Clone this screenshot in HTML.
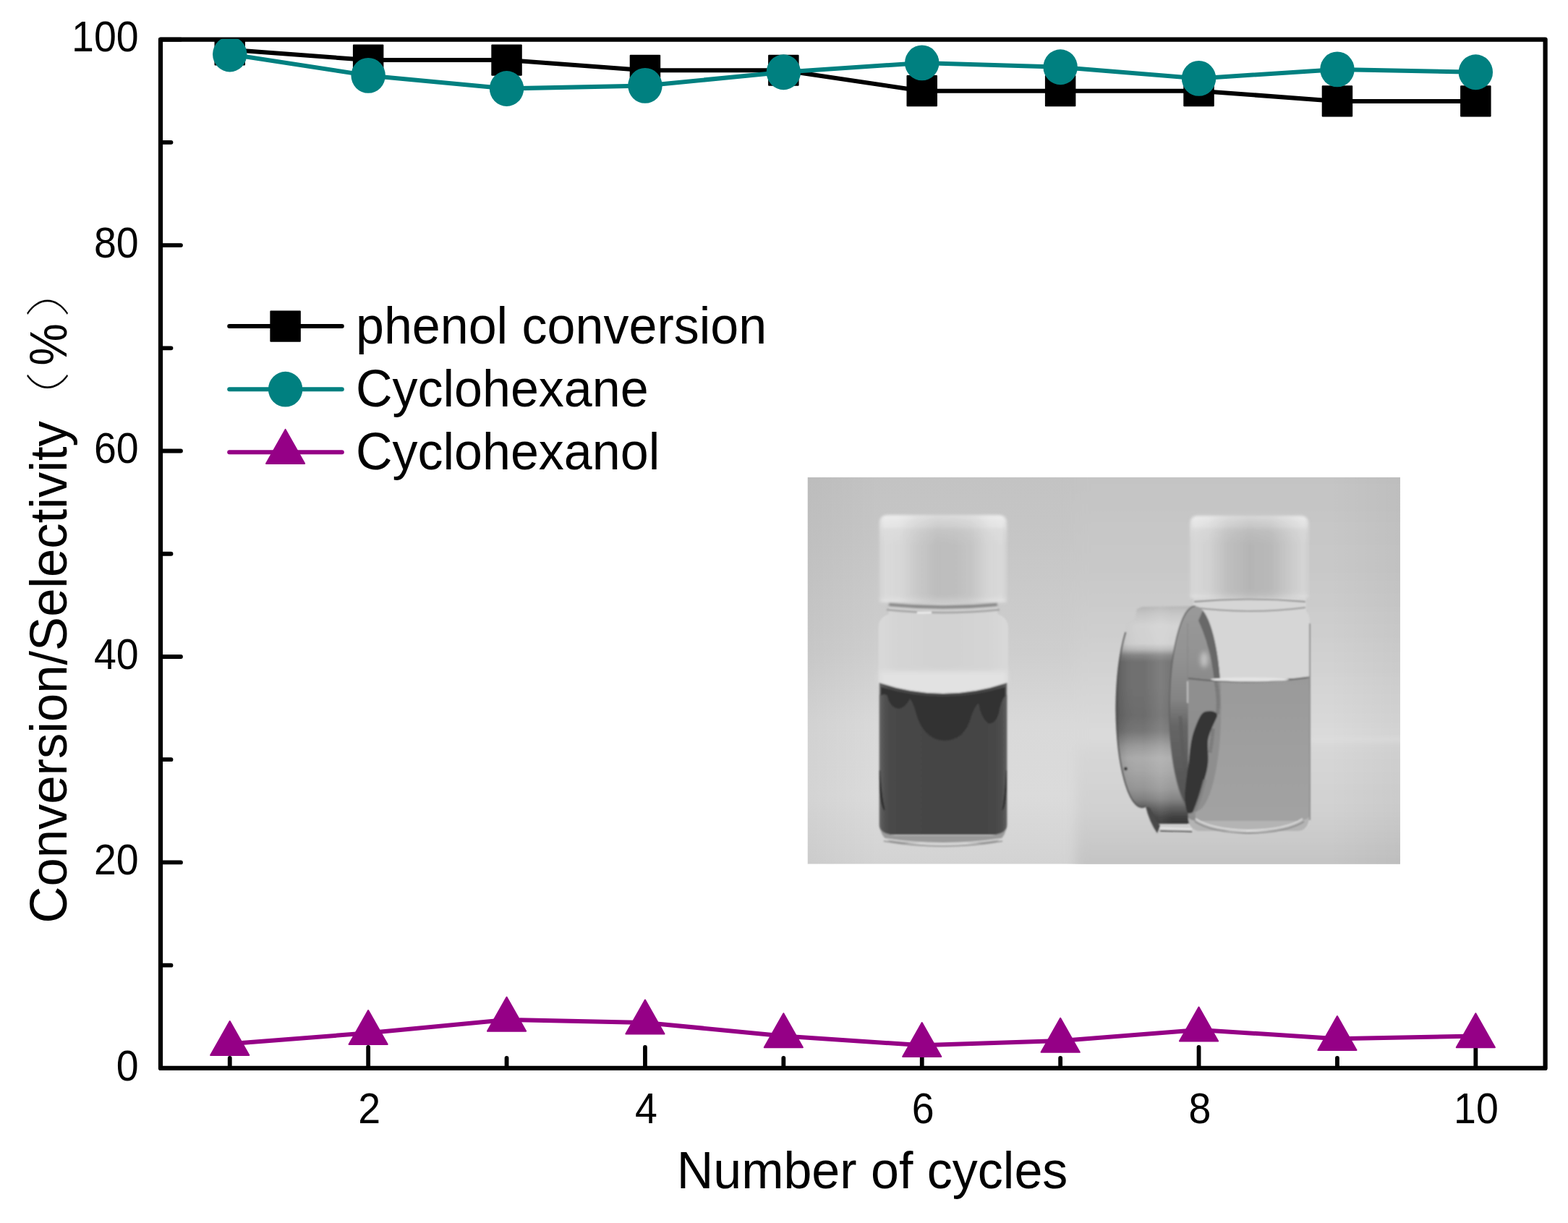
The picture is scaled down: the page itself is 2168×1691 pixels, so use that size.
<!DOCTYPE html>
<html lang="en"><head><meta charset="utf-8"><title>Conversion/Selectivity vs Number of cycles</title>
<style>html,body{margin:0;padding:0;background:#fff;overflow:hidden}svg{display:block}</style></head>
<body>
<svg width="2168" height="1691" viewBox="0 0 2168 1691" font-family="'Liberation Sans', 'Noto Sans CJK SC', sans-serif">
<rect width="2168" height="1691" fill="#fff"/>
<defs>
<clipPath id="pc"><rect x="1116.5" y="660.0" width="819.5" height="534.7"/></clipPath>
<filter id="f1" filterUnits="userSpaceOnUse" x="1090" y="640" width="880" height="580"><feGaussianBlur stdDeviation="1.1"/></filter>
<filter id="f2" filterUnits="userSpaceOnUse" x="1090" y="640" width="880" height="580"><feGaussianBlur stdDeviation="1.6"/></filter>
<filter id="f3" filterUnits="userSpaceOnUse" x="1090" y="640" width="880" height="580"><feGaussianBlur stdDeviation="3"/></filter>
<filter id="f8" filterUnits="userSpaceOnUse" x="1050" y="600" width="960" height="660"><feGaussianBlur stdDeviation="8"/></filter>
<linearGradient id="gcapL" x1="0" y1="0" x2="1" y2="0"><stop offset="0.000" stop-color="#d0d0d0"/><stop offset="0.040" stop-color="#dedede"/><stop offset="0.160" stop-color="#dcdcdc"/><stop offset="0.300" stop-color="#cccccc"/><stop offset="0.450" stop-color="#c0c0c0"/><stop offset="0.600" stop-color="#c2c2c2"/><stop offset="0.720" stop-color="#c8c8c8"/><stop offset="0.860" stop-color="#dadada"/><stop offset="0.960" stop-color="#dedede"/><stop offset="1.000" stop-color="#d0d0d0"/></linearGradient>
<linearGradient id="gcapR" x1="0" y1="0" x2="1" y2="0"><stop offset="0.000" stop-color="#d0d0d0"/><stop offset="0.040" stop-color="#dcdcdc"/><stop offset="0.160" stop-color="#d6d6d6"/><stop offset="0.320" stop-color="#c2c2c2"/><stop offset="0.500" stop-color="#b8b8b8"/><stop offset="0.680" stop-color="#bcbcbc"/><stop offset="0.860" stop-color="#d0d0d0"/><stop offset="0.960" stop-color="#dadada"/><stop offset="1.000" stop-color="#d0d0d0"/></linearGradient>
<linearGradient id="gcapT" x1="0" y1="0" x2="0" y2="1"><stop offset="0.000" stop-color="#fff" stop-opacity="0.45"/><stop offset="0.070" stop-color="#fff" stop-opacity="0.3"/><stop offset="0.200" stop-color="#fff" stop-opacity="0.1"/><stop offset="0.350" stop-color="#fff" stop-opacity="0"/><stop offset="0.900" stop-color="#fff" stop-opacity="0"/><stop offset="1.000" stop-color="#fff" stop-opacity="0.15"/></linearGradient>
<linearGradient id="gliqL" x1="0" y1="0" x2="1" y2="0"><stop offset="0.000" stop-color="#666666"/><stop offset="0.035" stop-color="#525252"/><stop offset="0.100" stop-color="#484848"/><stop offset="0.500" stop-color="#444444"/><stop offset="0.900" stop-color="#464646"/><stop offset="0.965" stop-color="#505050"/><stop offset="1.000" stop-color="#626262"/></linearGradient>
<linearGradient id="gglL" x1="0" y1="0" x2="1" y2="0"><stop offset="0.000" stop-color="#d8d8d8"/><stop offset="0.050" stop-color="#d8d8d8"/><stop offset="0.150" stop-color="#d4d4d4"/><stop offset="0.500" stop-color="#d2d2d2"/><stop offset="0.850" stop-color="#d4d4d4"/><stop offset="0.950" stop-color="#d8d8d8"/><stop offset="1.000" stop-color="#d8d8d8"/></linearGradient>
<linearGradient id="gliqR" x1="0" y1="0" x2="0" y2="1"><stop offset="0.000" stop-color="#909090"/><stop offset="0.500" stop-color="#969696"/><stop offset="1.000" stop-color="#9a9a9a"/></linearGradient>
<linearGradient id="gmagV" gradientUnits="userSpaceOnUse" x1="0" y1="838" x2="0" y2="1139"><stop offset="0.000" stop-color="#b4b4b4"/><stop offset="0.033" stop-color="#c4c4c4"/><stop offset="0.090" stop-color="#d2d2d2"/><stop offset="0.173" stop-color="#d0d0d0"/><stop offset="0.199" stop-color="#b8b8b8"/><stop offset="0.226" stop-color="#848484"/><stop offset="0.256" stop-color="#707070"/><stop offset="0.372" stop-color="#707070"/><stop offset="0.505" stop-color="#6c6c6c"/><stop offset="0.575" stop-color="#767676"/><stop offset="0.648" stop-color="#9c9c9c"/><stop offset="0.698" stop-color="#acacac"/><stop offset="0.754" stop-color="#a6a6a6"/><stop offset="0.837" stop-color="#969696"/><stop offset="0.887" stop-color="#808080"/><stop offset="0.930" stop-color="#585858"/><stop offset="0.970" stop-color="#383838"/><stop offset="1.000" stop-color="#2c2c2c"/></linearGradient>
<linearGradient id="gmagH" gradientUnits="userSpaceOnUse" x1="1543" y1="0" x2="1620" y2="0"><stop offset="0.000" stop-color="#000" stop-opacity="0.3"/><stop offset="0.060" stop-color="#000" stop-opacity="0.12"/><stop offset="0.200" stop-color="#000" stop-opacity="0.03"/><stop offset="0.500" stop-color="#fff" stop-opacity="0.0"/><stop offset="0.800" stop-color="#fff" stop-opacity="0.1"/><stop offset="1.000" stop-color="#fff" stop-opacity="0.04"/></linearGradient>
<linearGradient id="gface" gradientUnits="userSpaceOnUse" x1="0" y1="838" x2="0" y2="1122"><stop offset="0.000" stop-color="#9a9a9a"/><stop offset="0.250" stop-color="#929292"/><stop offset="0.450" stop-color="#848484"/><stop offset="0.580" stop-color="#666666"/><stop offset="0.800" stop-color="#5a5a5a"/><stop offset="1.000" stop-color="#505050"/></linearGradient>
<radialGradient id="gbg" gradientUnits="userSpaceOnUse" cx="1526" cy="975" r="1" gradientTransform="translate(1526 975) scale(520 360) translate(-1526 -975)"><stop offset="0" stop-color="#d2d2d2"/><stop offset="0.45" stop-color="#cfcfcf"/><stop offset="0.8" stop-color="#c6c6c6"/><stop offset="1" stop-color="#c0c0c0"/></radialGradient>
<linearGradient id="gbgL" gradientUnits="userSpaceOnUse" x1="0" y1="660" x2="0" y2="1195"><stop offset="0.000" stop-color="#c3c3c3"/><stop offset="0.168" stop-color="#c6c6c6"/><stop offset="0.449" stop-color="#cecece"/><stop offset="0.636" stop-color="#d9d9d9"/><stop offset="0.822" stop-color="#dbdbdb"/><stop offset="1.000" stop-color="#d3d3d3"/></linearGradient>
<linearGradient id="gbgR" gradientUnits="userSpaceOnUse" x1="0" y1="660" x2="0" y2="1195"><stop offset="0.000" stop-color="#c4c4c4"/><stop offset="0.262" stop-color="#c9c9c9"/><stop offset="0.449" stop-color="#d0d0d0"/><stop offset="0.636" stop-color="#d9d9d9"/><stop offset="0.680" stop-color="#dadada"/><stop offset="0.710" stop-color="#d6d6d6"/><stop offset="0.860" stop-color="#d1d1d1"/><stop offset="0.935" stop-color="#cacaca"/><stop offset="1.000" stop-color="#c4c4c4"/></linearGradient>
<linearGradient id="gvig" x1="0" y1="0" x2="1" y2="0"><stop offset="0.000" stop-color="#000" stop-opacity="0.035"/><stop offset="0.120" stop-color="#000" stop-opacity="0"/><stop offset="0.880" stop-color="#000" stop-opacity="0"/><stop offset="1.000" stop-color="#000" stop-opacity="0.035"/></linearGradient>
</defs>
<g clip-path="url(#pc)">
<rect x="1116.5" y="660.0" width="819.5" height="534.7" fill="url(#gbgL)"/>
<rect x="1487" y="640" width="480" height="580" fill="url(#gbgR)" filter="url(#f8)"/>
<rect x="1116.5" y="660.0" width="819.5" height="534.7" fill="url(#gvig)"/>
<rect x="1811" y="1020" width="160" height="6" fill="#e0e0e0" opacity="0.5" filter="url(#f3)"/>
<g filter="url(#f1)">
<path d="M1229 834H1379V849Q1394 854 1394 868V960H1214.5V868Q1214.5 854 1229 849Z" fill="url(#gglL)"/>
<path d="M1216 928H1392.5V946Q1304 976 1216 946Z" fill="#e2e2e2" filter="url(#f3)"/>
<g filter="url(#f2)"><path d="M1215.7 833V724Q1215.7 712 1228 712H1380Q1392.4 712 1392.4 724V833Z" fill="url(#gcapL)"/><path d="M1215.7 833V724Q1215.7 712 1228 712H1380Q1392.4 712 1392.4 724V833Z" fill="url(#gcapT)"/>
<path d="M1222.0 730V828M1226.6 730V828M1231.2 730V828M1235.8 730V828M1240.4 730V828M1245.0 730V828M1249.6 730V828M1254.2 730V828M1258.8 730V828M1263.4 730V828M1268.0 730V828M1272.6 730V828M1277.2 730V828M1281.8 730V828M1286.4 730V828M1291.0 730V828M1295.6 730V828M1300.2 730V828M1304.8 730V828M1309.4 730V828M1314.0 730V828M1318.6 730V828M1323.2 730V828M1327.8 730V828M1332.4 730V828M1337.0 730V828M1341.6 730V828M1346.2 730V828M1350.8 730V828M1355.4 730V828M1360.0 730V828M1364.6 730V828M1369.2 730V828M1373.8 730V828M1378.4 730V828M1383.0 730V828M1387.6 730V828" stroke="#909090" stroke-width="1.6" opacity="0.16" fill="none"/></g>
<path d="M1229 836Q1304 843 1379 836" stroke="#848484" stroke-width="4.5" fill="none" filter="url(#f1)"/>
<path d="M1226 843Q1304 851 1382 843" stroke="#a8a8a8" stroke-width="3" fill="none"/>
<path d="M1268 847H1288" stroke="#f0f0f0" stroke-width="2.6" fill="none"/>
<path d="M1215.7 944Q1304 974 1392.4 944V1140Q1392.4 1152 1378 1154H1230Q1215.7 1152 1215.7 1140Z" fill="url(#gliqL)"/>
<path d="M1218 950Q1304 976 1390 950V962Q1384 968 1381 986Q1376 1002 1366 1000Q1356 992 1353 972Q1348 976 1343 990Q1334 1024 1305 1024Q1276 1022 1266 984Q1262 970 1258 966Q1252 978 1243 980Q1230 978 1227 962Q1222 958 1218 962Z" fill="#303030"/>
<path d="M1216.5 1065Q1218 1102 1223 1120Q1216 1112 1216.5 1065Z" fill="#262626" stroke="#262626" stroke-width="1.2"/>
<path d="M1391.5 1065Q1390 1102 1386 1120Q1392 1112 1391.5 1065Z" fill="#2c2c2c" stroke="#2c2c2c" stroke-width="1"/>
<path d="M1217 1146Q1221 1164 1240 1166H1368Q1388 1164 1391 1146Q1386 1154 1370 1155H1238Q1222 1154 1217 1146Z" fill="#9a9a9a"/>
<path d="M1224 1160Q1304 1172 1384 1160" stroke="#d4d4d4" stroke-width="2" fill="none"/>
<path d="M1222 1163Q1304 1177 1386 1163" stroke="#909090" stroke-width="1.6" fill="none"/>
<path d="M1650 827H1806V845Q1811.0 850 1811.0 862V1134Q1811.0 1147 1796 1149H1657Q1642.0 1147 1642.0 1134V862Q1642.0 850 1650 845Z" fill="#d6d6d6"/>
<path d="M1579 839L1652.7 838L1652.7 1139L1602 1139Q1592 1128 1584.5 1114.5A35.7 142 0 0 1 1543.3 980A35.7 142 0 0 1 1556.5 874L1558.5 864L1569 858L1572 842Z" fill="url(#gmagV)"/>
<path d="M1579 839L1652.7 838L1652.7 1139L1602 1139Q1592 1128 1584.5 1114.5A35.7 142 0 0 1 1543.3 980A35.7 142 0 0 1 1556.5 874L1558.5 864L1569 858L1572 842Z" fill="url(#gmagH)"/>
<path d="M1584.5 1114.5A35.7 142 0 0 1 1543.3 980A35.7 142 0 0 1 1556.5 874" stroke="#505050" stroke-width="1.8" fill="none"/>
<circle cx="1556.5" cy="1063" r="2.4" fill="#383838"/>
<path d="M1584 1115Q1589 1136 1600 1152L1604 1142Q1596 1130 1590 1117Z" fill="#484848"/>
<path d="M1604 1143.2L1648 1145V1148L1604 1147Z" fill="#e0e0e0"/>
<path d="M1604 1148.5L1648 1149.5" stroke="#181818" stroke-width="1.5" fill="none"/>
<ellipse cx="1652.7" cy="980" rx="35.7" ry="142" fill="url(#gface)"/>
<path d="M1652.7 838A35.7 142 0 0 0 1617 980A35.7 142 0 0 0 1652.7 1122" stroke="#606060" stroke-width="1.8" fill="none" opacity="0.8"/>
<path d="M1632 990Q1634 1056 1650 1112" stroke="#585858" stroke-width="5" fill="none" opacity="0.45"/>
<path d="M1663 844A35.7 142 0 0 1 1688.4 980L1681 980Q1681 910 1657 858Z" fill="#686868"/>
<ellipse cx="1665" cy="912" rx="5" ry="11" fill="#c4c4c4" filter="url(#f3)"/>
<path d="M1642.7 938H1810.3V1128Q1810.3 1134 1796 1135H1657Q1642.7 1134 1642.7 1128Z" fill="url(#gliqR)" fill-opacity="0.86"/>
<path d="M1642.7 1128Q1642.7 1147 1657 1149H1796Q1810.3 1147 1810.3 1128Q1810.3 1134 1796 1135H1657Q1642.7 1134 1642.7 1128Z" fill="#b4b4b4"/>
<path d="M1653 1132Q1675 1147 1726 1148Q1780 1147 1801 1132" stroke="#e0e0e0" stroke-width="1.8" fill="none"/>
<path d="M1652 1136Q1675 1151 1726 1152Q1780 1151 1803 1136" stroke="#787878" stroke-width="1.4" fill="none"/>
<path d="M1642.0 862V940" stroke="#848484" stroke-width="1.6" fill="none" opacity="0.6"/>
<path d="M1642.0 942V972" stroke="#d8d8d8" stroke-width="1.4" fill="none"/>
<path d="M1811.0 862V1134" stroke="#808080" stroke-width="1.6" fill="none"/>
<path d="M1651 832Q1728 825 1805 832" stroke="#8c8c8c" stroke-width="1.8" fill="none"/>
<path d="M1651 840Q1728 850 1805 840" stroke="#989898" stroke-width="1.8" fill="none"/>
<path d="M1643.0 938Q1728 948 1810.0 936.5" stroke="#626262" stroke-width="2.2" fill="none"/>
<ellipse cx="1728" cy="939.5" rx="54" ry="3" fill="#e4e4e4"/>
<path d="M1666 984C1674 982 1684 984 1683 990C1679 1000 1673 1010 1670.3 1022C1669 1032 1671 1043 1670.3 1054C1669.5 1062 1668 1069 1666 1075C1662 1090 1658.5 1102 1654.3 1112.4C1652.5 1117 1651 1121 1649 1123C1646 1125 1643 1125 1641.6 1123C1638.5 1115 1638 1106 1638.4 1096.4C1639.5 1082 1641.5 1068 1643.7 1054C1645 1041 1646 1028 1649 1016.6C1652 1006 1656 997 1659.7 990C1661.5 987 1663.5 985 1666 984Z" fill="#343434"/>
<path d="M1666 1078Q1660 1102 1652 1122" stroke="#808080" stroke-width="5" fill="none" opacity="0.7"/>
<path d="M1681 943Q1686.5 969 1683 988M1677 1008Q1676 1024 1673 1040" stroke="#484848" stroke-width="5" fill="none" stroke-dasharray="1 1.4" opacity="0.6"/>
<g filter="url(#f2)"><path d="M1645 827V725Q1645 713 1657 713H1797.5Q1809.5 713 1809.5 725V827Z" fill="url(#gcapR)"/><path d="M1645 827V725Q1645 713 1657 713H1797.5Q1809.5 713 1809.5 725V827Z" fill="url(#gcapT)"/>
<path d="M1651.0 730V823M1655.3 730V823M1659.6 730V823M1663.9 730V823M1668.2 730V823M1672.5 730V823M1676.8 730V823M1681.1 730V823M1685.4 730V823M1689.7 730V823M1694.0 730V823M1698.3 730V823M1702.6 730V823M1706.9 730V823M1711.2 730V823M1715.5 730V823M1719.8 730V823M1724.1 730V823M1728.4 730V823M1732.7 730V823M1737.0 730V823M1741.3 730V823M1745.6 730V823M1749.9 730V823M1754.2 730V823M1758.5 730V823M1762.8 730V823M1767.1 730V823M1771.4 730V823M1775.7 730V823M1780.0 730V823M1784.3 730V823M1788.6 730V823M1792.9 730V823M1797.2 730V823M1801.5 730V823M1805.8 730V823" stroke="#848484" stroke-width="1.5" opacity="0.16" fill="none"/></g>
</g>
</g>

<rect x="222.0" y="54.6" width="1914.6" height="1422.3" fill="none" stroke="#000" stroke-width="6.2" stroke-linejoin="round"/>
<path d="M222.0 1476.90h28M222.0 1334.67h14.5M222.0 1192.44h28M222.0 1050.21h14.5M222.0 907.98h28M222.0 765.75h14.5M222.0 623.52h28M222.0 481.29h14.5M222.0 339.06h28M222.0 196.83h14.5M222.0 54.60h28M317.75 1476.9v-14M509.15 1476.9v-29M700.55 1476.9v-14M891.95 1476.9v-29M1083.35 1476.9v-14M1274.75 1476.9v-29M1466.15 1476.9v-14M1657.55 1476.9v-29M1848.95 1476.9v-14M2040.35 1476.9v-29" stroke="#000" stroke-width="5.8" stroke-linecap="round" fill="none"/>
<g font-size="55.5" fill="#000">
<text transform="translate(191.6 1493.5) scale(1 1.06)" text-anchor="end">0</text>
<text transform="translate(191.6 1209.0) scale(1 1.06)" text-anchor="end">20</text>
<text transform="translate(191.6 924.6) scale(1 1.06)" text-anchor="end">40</text>
<text transform="translate(191.6 640.1) scale(1 1.06)" text-anchor="end">60</text>
<text transform="translate(191.6 355.7) scale(1 1.06)" text-anchor="end">80</text>
<text transform="translate(191.6 71.2) scale(1 1.06)" text-anchor="end">100</text>
<text transform="translate(510.6 1553) scale(1 1.06)" text-anchor="middle">2</text>
<text transform="translate(893.5 1553) scale(1 1.06)" text-anchor="middle">4</text>
<text transform="translate(1276.2 1553) scale(1 1.06)" text-anchor="middle">6</text>
<text transform="translate(1659.0 1553) scale(1 1.06)" text-anchor="middle">8</text>
<text transform="translate(2040.9 1553) scale(1 1.06)" text-anchor="middle">10</text>
</g>
<clipPath id="dc"><rect x="222.0" y="53.8" width="1914.6" height="1423.1"/></clipPath>
<g clip-path="url(#dc)" stroke-linejoin="round" stroke-linecap="round">
<polyline points="317.8,68.8 509.1,83.0 700.5,83.0 892.0,97.3 1083.3,97.3 1274.8,125.7 1466.2,125.7 1657.5,125.7 1849.0,139.9 2040.4,139.9" fill="none" stroke="#000" stroke-width="6"/>
<rect x="297.50" y="48.22" width="40.5" height="41.2" fill="#000" stroke="#000" stroke-width="2"/>
<rect x="488.90" y="62.45" width="40.5" height="41.2" fill="#000" stroke="#000" stroke-width="2"/>
<rect x="680.30" y="62.45" width="40.5" height="41.2" fill="#000" stroke="#000" stroke-width="2"/>
<rect x="871.70" y="76.67" width="40.5" height="41.2" fill="#000" stroke="#000" stroke-width="2"/>
<rect x="1063.10" y="76.67" width="40.5" height="41.2" fill="#000" stroke="#000" stroke-width="2"/>
<rect x="1254.50" y="105.11" width="40.5" height="41.2" fill="#000" stroke="#000" stroke-width="2"/>
<rect x="1445.90" y="105.11" width="40.5" height="41.2" fill="#000" stroke="#000" stroke-width="2"/>
<rect x="1637.30" y="105.11" width="40.5" height="41.2" fill="#000" stroke="#000" stroke-width="2"/>
<rect x="1828.70" y="119.34" width="40.5" height="41.2" fill="#000" stroke="#000" stroke-width="2"/>
<rect x="2020.10" y="119.34" width="40.5" height="41.2" fill="#000" stroke="#000" stroke-width="2"/>
<polyline points="317.8,75.0 509.1,104.4 700.5,122.5 892.0,118.4 1083.3,99.8 1274.8,86.9 1466.2,92.8 1657.5,108.4 1849.0,95.9 2040.4,99.8" fill="none" stroke="#008080" stroke-width="6"/>
<ellipse cx="317.75" cy="75.00" rx="23.7" ry="24.4" fill="#008080"/>
<ellipse cx="509.15" cy="104.40" rx="23.7" ry="24.4" fill="#008080"/>
<ellipse cx="700.55" cy="122.50" rx="23.7" ry="24.4" fill="#008080"/>
<ellipse cx="891.95" cy="118.40" rx="23.7" ry="24.4" fill="#008080"/>
<ellipse cx="1083.35" cy="99.75" rx="23.7" ry="24.4" fill="#008080"/>
<ellipse cx="1274.75" cy="86.90" rx="23.7" ry="24.4" fill="#008080"/>
<ellipse cx="1466.15" cy="92.75" rx="23.7" ry="24.4" fill="#008080"/>
<ellipse cx="1657.55" cy="108.40" rx="23.7" ry="24.4" fill="#008080"/>
<ellipse cx="1848.95" cy="95.90" rx="23.7" ry="24.4" fill="#008080"/>
<ellipse cx="2040.35" cy="99.75" rx="23.7" ry="24.4" fill="#008080"/>
<polyline points="317.8,1443.3 509.1,1428.3 700.5,1410.0 892.0,1413.9 1083.3,1432.5 1274.8,1445.3 1466.2,1439.1 1657.5,1423.9 1849.0,1436.3 2040.4,1432.5" fill="none" stroke="#950086" stroke-width="6"/>
<path d="M317.75 1412.00L344.35 1459.00H291.15Z" fill="#950086" stroke="#950086" stroke-width="2"/>
<path d="M509.15 1397.00L535.75 1444.00H482.55Z" fill="#950086" stroke="#950086" stroke-width="2"/>
<path d="M700.55 1378.70L727.15 1425.70H673.95Z" fill="#950086" stroke="#950086" stroke-width="2"/>
<path d="M891.95 1382.60L918.55 1429.60H865.35Z" fill="#950086" stroke="#950086" stroke-width="2"/>
<path d="M1083.35 1401.20L1109.95 1448.20H1056.75Z" fill="#950086" stroke="#950086" stroke-width="2"/>
<path d="M1274.75 1414.00L1301.35 1461.00H1248.15Z" fill="#950086" stroke="#950086" stroke-width="2"/>
<path d="M1466.15 1407.80L1492.75 1454.80H1439.55Z" fill="#950086" stroke="#950086" stroke-width="2"/>
<path d="M1657.55 1392.60L1684.15 1439.60H1630.95Z" fill="#950086" stroke="#950086" stroke-width="2"/>
<path d="M1848.95 1405.00L1875.55 1452.00H1822.35Z" fill="#950086" stroke="#950086" stroke-width="2"/>
<path d="M2040.35 1401.20L2066.95 1448.20H2013.75Z" fill="#950086" stroke="#950086" stroke-width="2"/>
</g>
<g stroke-linejoin="round" stroke-linecap="round">
<path d="M317.2 451.1H472.8" stroke="#000" stroke-width="6"/>
<rect x="374.35" y="430.50" width="40.5" height="41.2" fill="#000" stroke="#000" stroke-width="2"/>
<path d="M317.2 538.2H472.8" stroke="#008080" stroke-width="6"/>
<ellipse cx="394.60" cy="538.20" rx="23.7" ry="24.4" fill="#008080"/>
<path d="M317.2 625.2H472.8" stroke="#950086" stroke-width="6"/>
<path d="M394.60 593.90L421.20 640.90H368.00Z" fill="#950086" stroke="#950086" stroke-width="2"/>
</g>
<g font-size="70" fill="#000">
<text transform="translate(492 474.9) scale(1 1.03)">phenol conversion</text>
<text transform="translate(492 562.0) scale(1 1.03)">Cyclohexane</text>
<text transform="translate(492 649.0) scale(1 1.03)">Cyclohexanol</text>
</g>
<text transform="translate(1206 1642.6) scale(1 1.03)" font-size="70" text-anchor="middle" fill="#000">Number of cycles</text>
<g transform="translate(92.2 1276.6) rotate(-90)" fill="#000"><text font-size="70.6" transform="scale(1 1.03)">Conversion/Selectivity</text><text font-size="70" font-weight="100" transform="translate(678 -3.1) scale(1.21 0.862)">（</text><text font-size="70" transform="translate(771.2 0) scale(0.937 1.03)">%</text><text font-size="70" font-weight="100" transform="translate(837.3 -3.1) scale(1.3 0.862)">）</text></g>
</svg>
</body></html>
